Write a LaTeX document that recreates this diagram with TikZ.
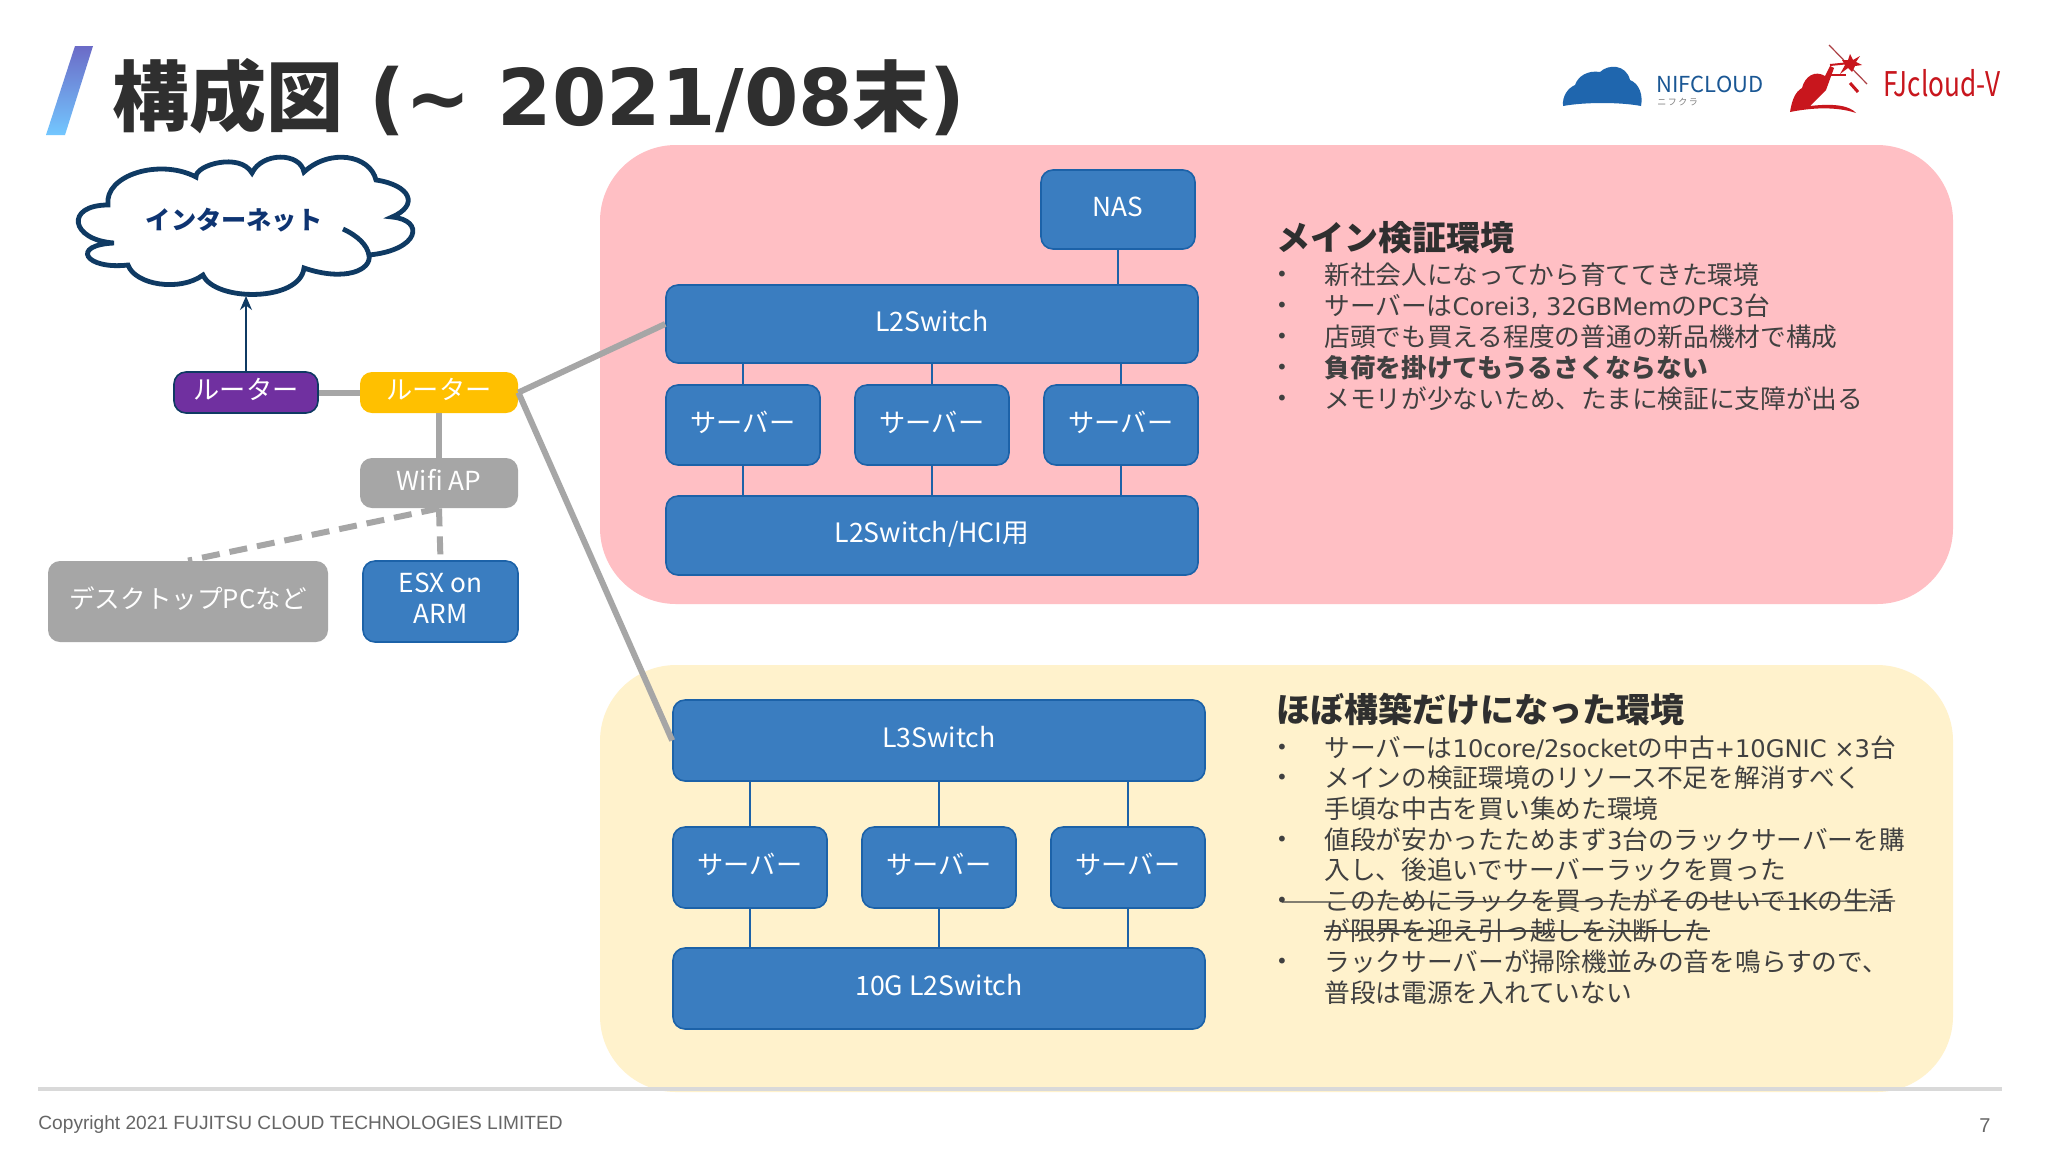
\documentclass[tikz,border=0pt]{standalone}
\usepackage{fontspec}
\setmainfont{Noto Sans CJK JP}
\newfontfamily\footfont{Liberation Sans}
\newfontfamily\latface{DejaVu Sans}
\newcommand{\lat}[1]{{\latface\fontsize{12.1}{15}\selectfont #1}}
\usetikzlibrary{arrows.meta}
\definecolor{boxblue}{HTML}{3A7DC0}
\definecolor{boxedge}{HTML}{1C62A8}
\definecolor{pinkp}{HTML}{FFBFC4}
\definecolor{yellowp}{HTML}{FFF2CC}
\definecolor{linegray}{HTML}{A6A6A6}
\definecolor{navy}{HTML}{0F3A63}
\definecolor{bodytext}{HTML}{404040}
\definecolor{titletext}{HTML}{2F2F2F}
\definecolor{logored}{HTML}{C8161D}
\definecolor{logoblue}{HTML}{1F66AE}
\definecolor{routerpurple}{HTML}{7030A0}
\definecolor{routeryellow}{HTML}{FFC000}
\tikzset{
  panel/.style={rounded corners=38pt,inner sep=0pt,draw=none},
  nbox/.style={rounded corners=6pt,inner sep=0pt,align=center,text=white,text height=11pt,text depth=3.8pt,font=\fontsize{13.1}{15.7}\selectfont},
  bluebox/.style={nbox,fill=boxblue,draw=boxedge,line width=0.8pt},
  latbox/.style={bluebox,font=\fontsize{13.35}{15.7}\selectfont},
  graybox/.style={nbox,fill=linegray},
  wire/.style={draw=boxedge,line width=0.7pt},
  trunk/.style={draw=linegray,line width=3pt},
  wdash/.style={draw=linegray,line width=3pt,dash pattern=on 9pt off 5pt},
  head/.style={anchor=west,inner sep=0pt,text=titletext,font=\fontsize{17}{20}\selectfont\bfseries},
  lineT/.style={anchor=west,inner sep=0pt,text=bodytext,font=\fontsize{12.85}{15}\selectfont},
  bul/.style={anchor=center,inner sep=0pt,text=bodytext,font=\latface\fontsize{10}{10}\selectfont},
  strike/.style={draw=bodytext,line width=0.6pt},
}
\begin{document}
\begin{tikzpicture}[x=0.5pt,y=-0.5pt]
\useasboundingbox (0,0) rectangle (2048,1152);
\fill[white] (0,0) rectangle (2048,1152);
% title
\shade[bottom color=cyan!60!blue!55!white,top color=blue!45!gray!80!white] (75,46) -- (93,46) -- (65,135) -- (46,135) -- cycle;
\node[anchor=west,inner sep=0pt,text=titletext,font=\fontsize{38.5}{44}\selectfont\bfseries] (title) at (112,97) {構成図\hspace{13pt}{\latface\bfseries\fontsize{39.1}{44}\selectfont (\textasciitilde{} 2021/08}末{\latface\bfseries\fontsize{39.1}{44}\selectfont )}};
% logos
\fill[logoblue] (1563,106) .. controls (1562,96) and (1568,88) .. (1575,85) .. controls (1578,76) and (1588,70) .. (1600,72) .. controls (1608,64) and (1626,64) .. (1630,80) .. controls (1640,84) and (1643,96) .. (1641,106) .. controls (1620,102) and (1585,102) .. (1563,106) -- cycle;
\node[anchor=west,inner sep=0pt,text=logoblue!85!black,font=\fontsize{11}{12}\selectfont] (nif) at (1656,84) {NIFCLOUD};
\node[anchor=west,inner sep=0pt,text=gray,font=\fontsize{4.5}{5}\selectfont] (nifk) at (1657,102) {ニ\,フ\,ク\,ラ};
\fill[logored] (1790,112) .. controls (1792,100) and (1795,92) .. (1802,88) .. controls (1805,76) and (1815,70) .. (1825,76) -- (1830,66) -- (1834,68) -- (1826,90) -- (1810,106) .. controls (1835,103) and (1850,106) .. (1856,113) .. controls (1835,106) and (1810,108) .. (1790,112) -- cycle;
\draw[logored,line width=1pt] (1830,65) -- (1850,63);
\draw[logored,line width=.8pt] (1826,75) -- (1846,75);
\draw[logored,line width=1.5pt] (1850,83) -- (1858,92);
\draw[logored!60!gray,line width=.6pt] (1829,45) -- (1867,84);
\fill[logored] (1850,54) -- (1853,60) -- (1860,56) -- (1856,62) -- (1862,65) -- (1855,66) -- (1852,72) -- (1848,68) -- (1840,74) -- (1845,65) -- (1842,60) -- (1848,60) -- cycle;
\node[anchor=west,inner sep=0pt,text=logored,xscale=.77,font=\fontsize{17}{18}\selectfont] (fj) at (1883,83) {FJcloud-V};
% panels
\node[panel,fill=pinkp,minimum width=676.5pt,minimum height=229.5pt] (pink) at (1276.5,374.5) {};
\node[panel,fill=yellowp,minimum width=676.5pt,minimum height=213.5pt] (cream) at (1276.5,878.5) {};
% cloud
\coordinate (netb) at (246,296);
\filldraw[fill=white,draw=navy,line width=2.4pt]
 (114,243) .. controls (70,240) and (65,205) .. (108,205)
 .. controls (104,175) and (160,158) .. (196,177)
 .. controls (195,165) and (240,152) .. (252,173)
 .. controls (262,152) and (300,152) .. (304,172)
 .. controls (330,148) and (370,155) .. (376,180)
 .. controls (410,185) and (420,205) .. (392,217)
 .. controls (425,220) and (420,250) .. (369,255)
 .. controls (372,270) and (345,282) .. (304,268)
 .. controls (300,302) and (215,302) .. (203,275)
 .. controls (180,292) and (135,285) .. (128,265)
 .. controls (85,270) and (70,245) .. (114,243) -- cycle;
\draw[navy,line width=2.4pt] (343,229) .. controls (358,236) and (367,245) .. (369,255);
\node[inner sep=0pt,text=navy!90!blue,font=\fontsize{12.6}{14}\selectfont\bfseries] (net) at (234,220) {インターネット};
% left column
\node[nbox,fill=routerpurple,draw=navy,line width=.8pt,minimum width=72pt,minimum height=20.5pt] (r1) at (246,392.5) {ルーター};
\node[nbox,fill=routeryellow,minimum width=79pt,minimum height=20.5pt] (r2) at (439,392.5) {ルーター};
\node[graybox,minimum width=79pt,minimum height=25pt] (ap) at (439,483) {Wifi AP};
\node[graybox,minimum width=140pt,minimum height=40.5pt,font=\fontsize{12.8}{15}\selectfont] (desk) at (188,601.5) {デスクトップPCなど};
\node[bluebox,minimum width=77.5pt,minimum height=40.5pt,text height=27pt,text depth=4.8pt] (esx) at (440.5,601.5) {ESX on\\ARM};
% main blue boxes
\node[bluebox,minimum width=77pt,minimum height=39.5pt] (nas) at (1118,209.5) {NAS};
\node[latbox,minimum width=266pt,minimum height=39pt] (l2) at (932,324) {L2Switch};
\node[bluebox,minimum width=77pt,minimum height=40pt] (s1) at (743,425) {サーバー};
\node[bluebox,minimum width=77pt,minimum height=40pt] (s2) at (932,425) {サーバー};
\node[bluebox,minimum width=77pt,minimum height=40pt] (s3) at (1121,425) {サーバー};
\node[latbox,minimum width=266pt,minimum height=39.5pt] (hci) at (932,535.5) {L2Switch/HCI用};
\node[latbox,minimum width=266pt,minimum height=40.5pt] (l3) at (939,740.5) {L3Switch};
\node[bluebox,minimum width=77pt,minimum height=40.5pt] (t1) at (750,867.5) {サーバー};
\node[bluebox,minimum width=77pt,minimum height=40.5pt] (t2) at (939,867.5) {サーバー};
\node[bluebox,minimum width=77pt,minimum height=40.5pt] (t3) at (1128,867.5) {サーバー};
\node[latbox,minimum width=266pt,minimum height=40.5pt] (g10) at (939,988.5) {10G L2Switch};
% connectors
\draw[navy,line width=.8pt,-{Stealth[length=7pt,width=6pt]}] (r1.north) -- (netb);
\draw[trunk] (r1.east) -- (r2.west);
\draw[trunk] (r2.south) -- (ap.north);
\draw[wdash] (ap.south) -- (desk.north);
\draw[wdash] (ap.south) -- (esx.north);
\draw[trunk] (r2.east) -- (l2.west);
\draw[trunk] (r2.east) -- (l3.west);
\draw[wire] (nas.south) -- (nas.south |- l2.north);
\draw[wire] (s1.north) -- (s1.north |- l2.south);
\draw[wire] (s2.north) -- (s2.north |- l2.south);
\draw[wire] (s3.north) -- (s3.north |- l2.south);
\draw[wire] (s1.south) -- (s1.south |- hci.north);
\draw[wire] (s2.south) -- (s2.south |- hci.north);
\draw[wire] (s3.south) -- (s3.south |- hci.north);
\draw[wire] (t1.north) -- (t1.north |- l3.south);
\draw[wire] (t2.north) -- (t2.north |- l3.south);
\draw[wire] (t3.north) -- (t3.north |- l3.south);
\draw[wire] (t1.south) -- (t1.south |- g10.north);
\draw[wire] (t2.south) -- (t2.south |- g10.north);
\draw[wire] (t3.south) -- (t3.south |- g10.north);
% text, pink
\node[head] (h1) at (1276,238) {メイン検証環境};
\node[lineT] (a1) at (1324,275) {新社会人になってから育ててきた環境};
\node[lineT] (a2) at (1324,306) {サーバーは\lat{Corei3, 32GBMem}の\lat{PC3}台};
\node[lineT] (a3) at (1324,337) {店頭でも買える程度の普通の新品機材で構成};
\node[lineT,font=\fontsize{12.85}{15}\selectfont\bfseries] (a4) at (1324,368) {負荷を掛けてもうるさくならない};
\node[lineT] (a5) at (1324,399) {メモリが少ないため、たまに検証に支障が出る};
\node[bul] (ba1) at (1282,276) {•};
\node[bul] (ba2) at (1282,307) {•};
\node[bul] (ba3) at (1282,338) {•};
\node[bul] (ba4) at (1282,369) {•};
\node[bul] (ba5) at (1282,400) {•};
% text, cream
\node[head] (h2) at (1276,709) {ほぼ構築だけになった環境};
\node[lineT] (b1) at (1324,748) {サーバーは\lat{10core/2socket}の中古\lat{+10GNIC ×3}台};
\node[lineT] (b2) at (1324,778) {メインの検証環境のリソース不足を解消すべく};
\node[lineT] (b3) at (1324,809) {手頃な中古を買い集めた環境};
\node[lineT] (b4) at (1324,840) {値段が安かったためまず\lat{3}台のラックサーバーを購};
\node[lineT] (b5) at (1324,870) {入し、後追いでサーバーラックを買った};
\node[lineT] (b6) at (1324,901) {このためにラックを買ったがそのせいで\lat{1K}の生活};
\node[lineT] (b7) at (1324,931) {が限界を迎え引っ越しを決断した};
\node[lineT] (b8) at (1324,962) {ラックサーバーが掃除機並みの音を鳴らすので、};
\node[lineT] (b9) at (1324,993) {普段は電源を入れていない};
\node[bul] (bb1) at (1282,749) {•};
\node[bul] (bb2) at (1282,779) {•};
\node[bul] (bb4) at (1282,841) {•};
\node[bul] (bb6) at (1282,902) {•};
\node[bul] (bb8) at (1282,963) {•};
\draw[strike] (bb6.center) -- (b6.east);
\draw[strike] (b7.west) -- (b7.east);
% footer
\draw[draw=black!15,line width=2pt] (38,1089) -- (2002,1089);
\node[anchor=west,inner sep=0pt,text=black!60,font=\fontsize{9.57}{12}\selectfont\footfont] (copy) at (38,1125) {Copyright 2021 FUJITSU CLOUD TECHNOLOGIES LIMITED};
\node[inner sep=0pt,text=black!60,font=\fontsize{10}{12}\selectfont\footfont] (pg) at (1985,1126) {7};
\end{tikzpicture}
\end{document}
